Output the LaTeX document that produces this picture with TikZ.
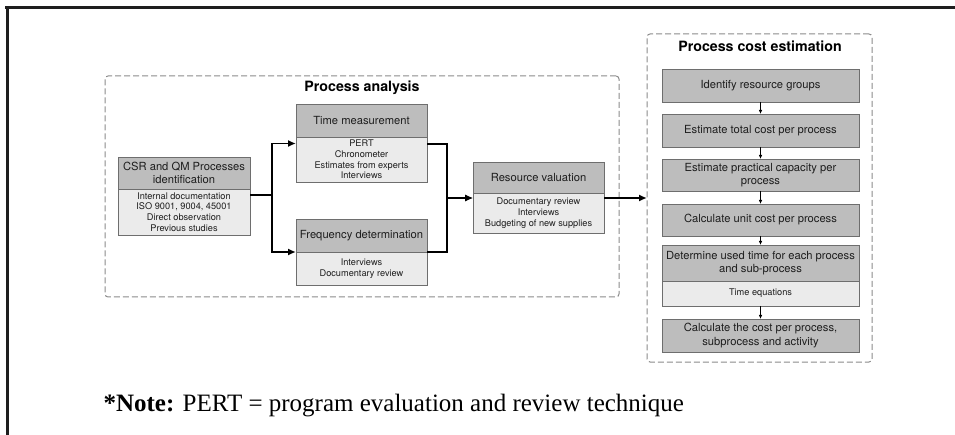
\documentclass[tikz,border=0pt]{standalone}
\usepackage{fontspec}
\setmainfont{TeX Gyre Heros}
\newfontfamily\notefont{Liberation Serif}
\usetikzlibrary{arrows.meta,calc,positioning}

\definecolor{hdrgray}{HTML}{BDBDBD}
\definecolor{bodygray}{HTML}{EBEBEB}
\definecolor{edgegray}{HTML}{6E6E6E}
\definecolor{dashgray}{HTML}{8A8A8A}
\definecolor{inkgray}{HTML}{1E1E1E}

\begin{document}
\begin{tikzpicture}[x=1pt,y=-1pt,
	hdr/.style={draw=edgegray,line width=0.9pt,fill=hdrgray,outer sep=0pt,inner sep=1pt,
		align=center,text=inkgray,font=\fontsize{11.2}{13.3}\selectfont,anchor=north west},
	bodybox/.style={draw=edgegray,line width=0.9pt,fill=bodygray,outer sep=0pt,inner sep=1pt,
		align=center,text=inkgray,font=\fontsize{9.2}{10.8}\selectfont},
	group/.style={draw=dashgray,line width=1pt,dash pattern=on 6pt off 3pt,rounded corners=3pt,
		outer sep=0pt,inner sep=0pt,anchor=north west},
	title/.style={font=\bfseries\fontsize{14.2}{16}\selectfont,text=black},
	flow/.style={-{Latex[length=8pt,width=7pt]},line width=1.8pt},
	link/.style={-{Latex[length=4pt,width=3.5pt]},line width=0.9pt}]
		\useasboundingbox (0,0) rectangle (955,435);

		% Frame
		\draw[line width=3pt,inkgray] (5,8) -- (955,8);
		\draw[line width=3pt,inkgray] (7,6.5) -- (7,435);

		% Groups
		\node[group,minimum width=514pt,minimum height=221pt] (pa) at (105,76) {};
		\node[group,minimum width=225pt,minimum height=328pt] (pce) at (647,34) {};
		\node[title] (patitle) at (362,87.5) {Process analysis};
		\node[title] (pcetitle) at (760,46) {Process cost estimation};

		% Process analysis
		\node[hdr,minimum width=132pt,minimum height=32pt] (csrh) at (118,157)
		{CSR and QM Processes\\identification};
		\node[bodybox,minimum width=132pt,minimum height=46pt,below=0pt of csrh] (csrb)
		{Internal documentation\\ISO 9001, 9004, 45001\\Direct observation\\Previous studies};
		\node[hdr,minimum width=131pt,minimum height=33pt] (tmh) at (296,104) {Time measurement};
		\node[bodybox,minimum width=131pt,minimum height=45pt,below=0pt of tmh] (tmb)
		{PERT\\Chronometer\\Estimates from experts\\Interviews};
		\node[hdr,minimum width=131pt,minimum height=33pt] (frh) at (296,219) {Frequency determination};
		\node[bodybox,minimum width=131pt,minimum height=33pt,below=0pt of frh] (frb)
		{Interviews\\Documentary review};
		\node[hdr,minimum width=131pt,minimum height=31pt] (rvh) at (473,162) {Resource valuation};
		\node[bodybox,minimum width=131pt,minimum height=40pt,below=0pt of rvh] (rvb)
		{Documentary review\\Interviews\\Budgeting of new supplies};

		% Process cost estimation
		\node[hdr,minimum width=197pt,minimum height=33pt] (pc1) at (662,69) {Identify resource groups};
		\node[hdr,minimum width=197pt,minimum height=33pt] (pc2) at (662,114) {Estimate total cost per process};
		\node[hdr,minimum width=197pt,minimum height=32pt] (pc3) at (662,159)
		{Estimate practical capacity per\\process};
		\node[hdr,minimum width=197pt,minimum height=32pt] (pc4) at (662,204) {Calculate unit cost per process};
		\node[hdr,minimum width=197pt,minimum height=36pt] (pc5) at (662,245)
		{Determine used time for each process\\and sub-process};
		\node[bodybox,minimum width=197pt,minimum height=25pt,below=0pt of pc5] (pc5b) {Time equations};
		\node[hdr,minimum width=197pt,minimum height=33pt] (pc6) at (662,319)
		{Calculate the cost per process,\\subprocess and activity};

		% Flow
		\draw[flow] ($(csrb.north east)+(0,6)$) -- ++(22,0) |- ($(tmb.north west)+(0,6.5)$);
		\draw[flow] ($(csrb.north east)+(0,6)$) -- ++(22,0) |- (frh.south west);
		\draw[flow] ($(tmb.north east)+(0,7)$) -- ++(20,0) |- ($(rvb.north west)+(0,5)$);
		\draw[flow] (frh.south east) -- ++(20,0) |- ($(rvb.north west)+(0,5)$);
		\coordinate (rvout) at ($(rvb.north east)+(0,5)$);
		\draw[flow] (rvout) -- (rvout -| pce.west);

		\draw[link] (pc1.south) -- (pc2.north);
		\draw[link] (pc2.south) -- (pc3.north);
		\draw[link] (pc3.south) -- (pc4.north);
		\draw[link] (pc4.south) -- (pc5.north);
		\draw[link] (pc5b.south) -- (pc6.north);

		% Note
		\node[anchor=base west,font=\notefont\fontsize{25}{30}\selectfont] (note) at (100,411)
		{\textbf{*Note:} PERT = program evaluation and review technique};
	\end{tikzpicture}
\end{document}
